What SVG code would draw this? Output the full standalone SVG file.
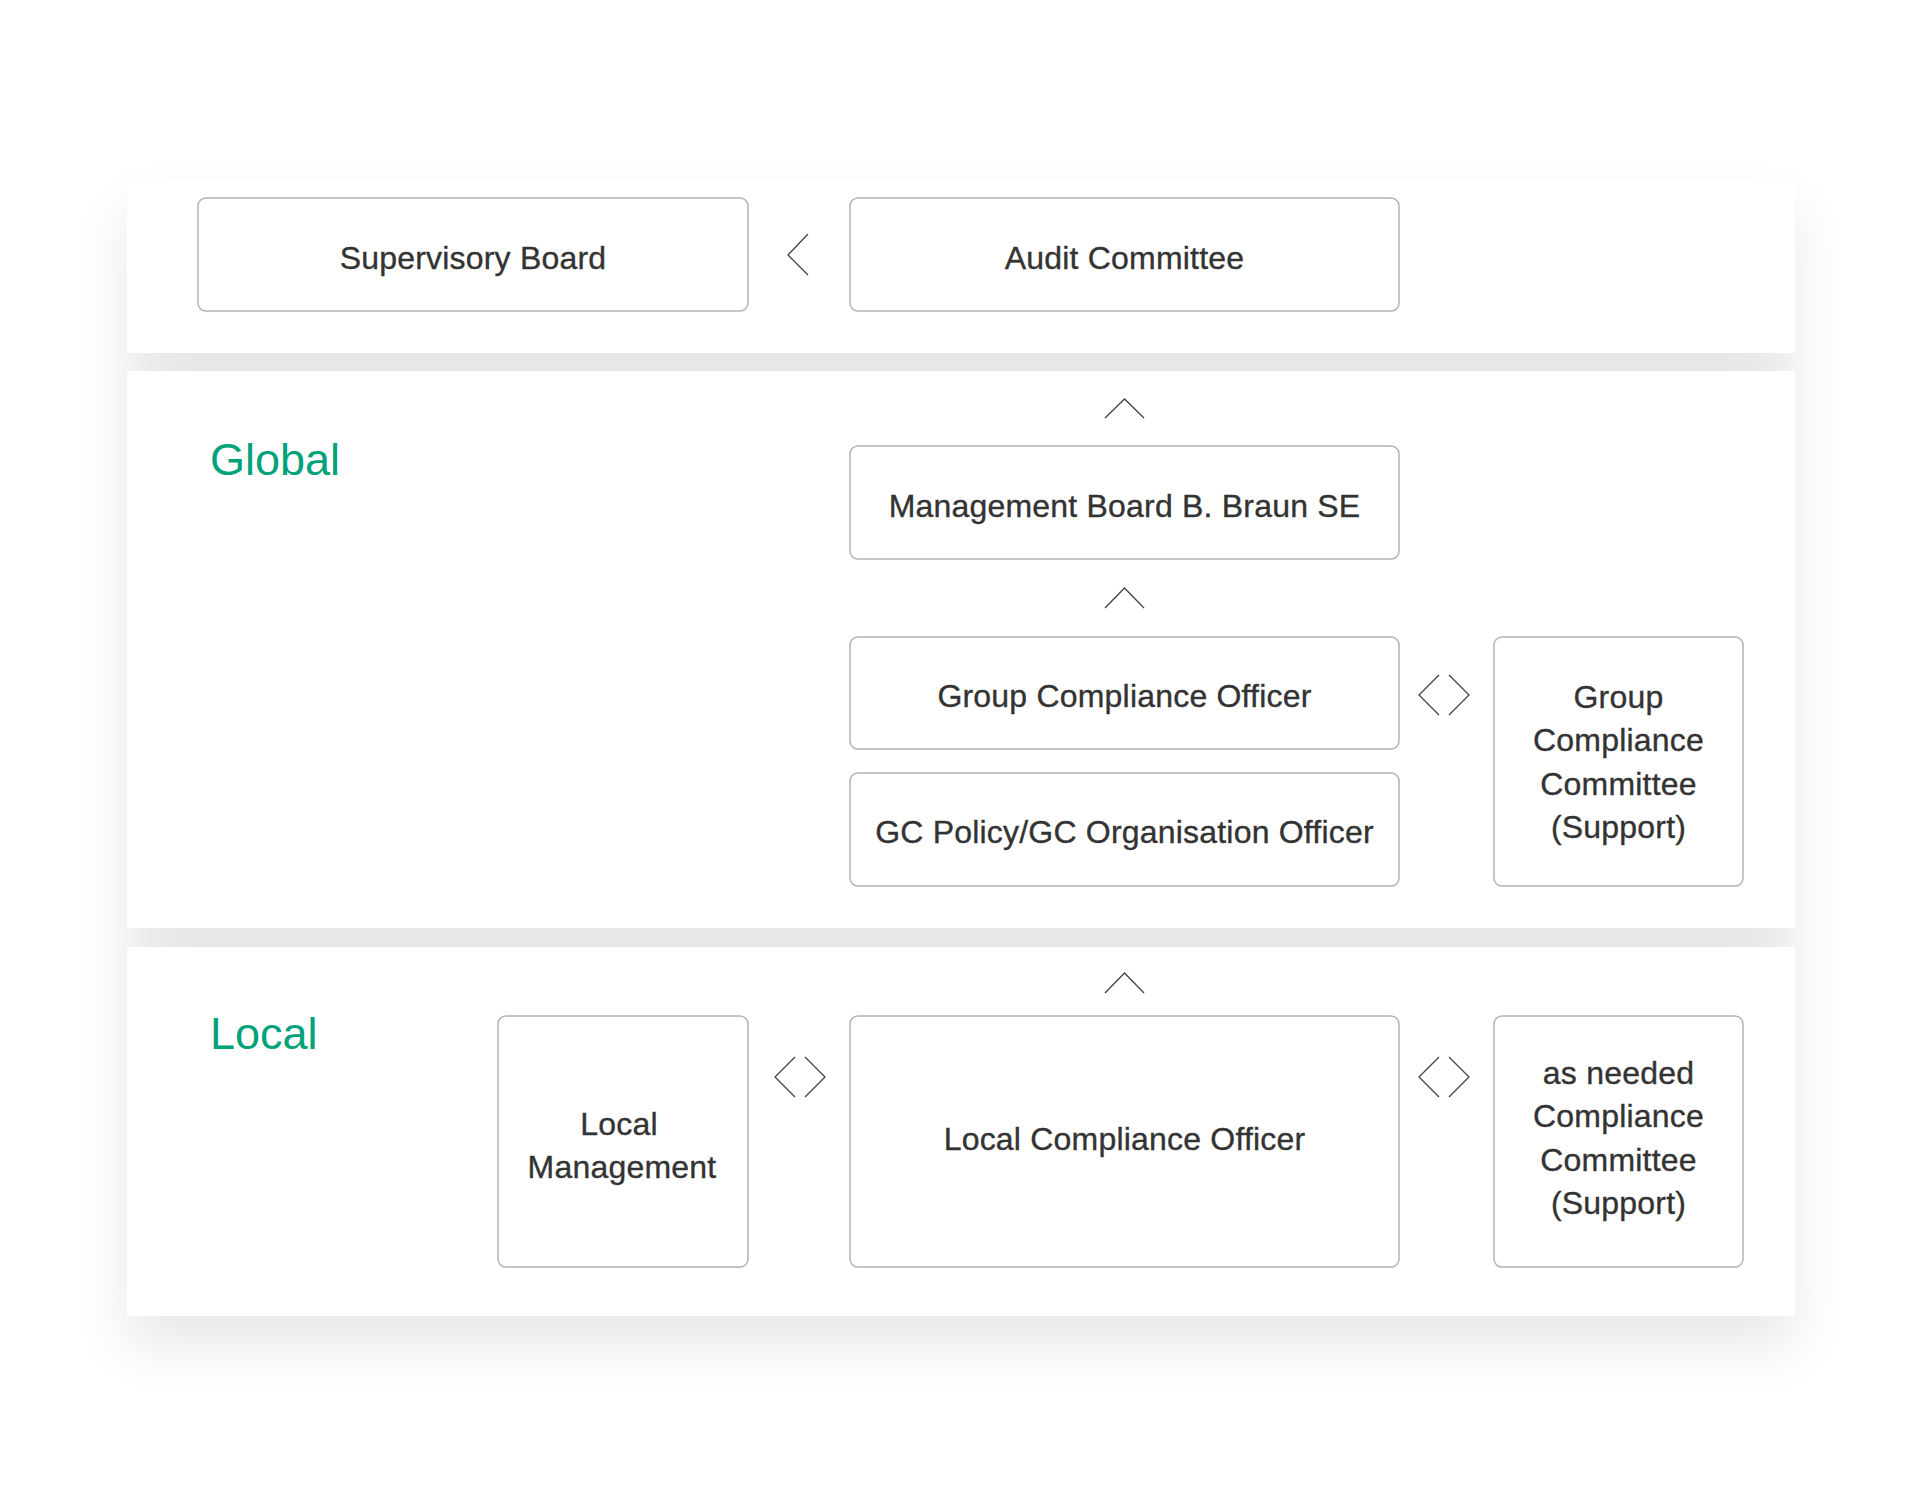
<svg xmlns="http://www.w3.org/2000/svg" width="1920" height="1500" viewBox="0 0 1920 1500">
  <defs>
    <filter id="sh" x="-10%" y="-15%" width="120%" height="135%">
      <feGaussianBlur stdDeviation="28"/>
    </filter>
    <style>
      .box { fill: #ffffff; stroke: #b3b3b3; stroke-width: 1.5; }
      .panel { fill: #ffffff; }
      .t { font-family: "Liberation Sans", Arial, sans-serif; font-size: 32px; fill: #333333; stroke: #333333; stroke-width: 0.35; text-anchor: middle; letter-spacing: 0.2px; }
      .lvl { font-family: "Liberation Sans", Arial, sans-serif; font-size: 45px; fill: #00a27a; }
      .chev { fill: none; stroke: #444444; stroke-width: 1.3; }
    </style>
  </defs>
  <rect width="1920" height="1500" fill="#ffffff"/>

  <g id="background">
    <rect x="127" y="210" width="1668" height="1136" fill="#000000" opacity="0.09" filter="url(#sh)"/>
    <rect class="panel" x="127" y="180" width="1668" height="173"/>
    <rect class="panel" x="127" y="371" width="1668" height="557"/>
    <rect class="panel" x="127" y="947" width="1668" height="369"/>
  </g>

  <g id="level-labels">
    <text class="lvl" x="210" y="475">Global</text>
    <text class="lvl" x="210" y="1049">Local</text>
  </g>

  <g id="connectors">
    <polyline class="chev" points="808,234 788,255 808,275"/>
    <polyline class="chev" points="1105,418 1124.5,399 1144,418"/>
    <polyline class="chev" points="1105,608 1124.5,588 1144,608"/>
    <polyline class="chev" points="1105,993 1124.5,973 1144,993"/>
    <polyline class="chev" points="1439,675 1419,695 1439,715"/>
    <polyline class="chev" points="1449,675 1469,695 1449,715"/>
    <polyline class="chev" points="795,1057 775,1077 795,1097"/>
    <polyline class="chev" points="805,1057 825,1077 805,1097"/>
    <polyline class="chev" points="1439,1057 1419,1077 1439,1097"/>
    <polyline class="chev" points="1449,1057 1469,1077 1449,1097"/>
  </g>

  <g id="supervisory-board">
    <rect class="box" x="198" y="198" width="550" height="113" rx="8"/>
    <text class="t" x="473" y="269">Supervisory Board</text>
  </g>

  <g id="audit-committee">
    <rect class="box" x="850" y="198" width="549" height="113" rx="8"/>
    <text class="t" x="1124.5" y="269">Audit Committee</text>
  </g>

  <g id="management-board">
    <rect class="box" x="850" y="446" width="549" height="113" rx="8"/>
    <text class="t" x="1124.5" y="517">Management Board B. Braun SE</text>
  </g>

  <g id="group-compliance-officer">
    <rect class="box" x="850" y="637" width="549" height="112" rx="8"/>
    <text class="t" x="1124.5" y="707">Group Compliance Officer</text>
  </g>

  <g id="gc-policy-officer">
    <rect class="box" x="850" y="773" width="549" height="113" rx="8"/>
    <text class="t" x="1124.5" y="843">GC Policy/GC Organisation Officer</text>
  </g>

  <g id="group-compliance-committee">
    <rect class="box" x="1494" y="637" width="249" height="249" rx="8"/>
    <text class="t" x="1618.5" y="708">Group</text>
    <text class="t" x="1618.5" y="751">Compliance</text>
    <text class="t" x="1618.5" y="795">Committee</text>
    <text class="t" x="1618.5" y="838">(Support)</text>
  </g>

  <g id="local-management">
    <rect class="box" x="498" y="1016" width="250" height="251" rx="8"/>
    <text class="t" x="619" y="1135">Local</text>
    <text class="t" x="622" y="1178">Management</text>
  </g>

  <g id="local-compliance-officer">
    <rect class="box" x="850" y="1016" width="549" height="251" rx="8"/>
    <text class="t" x="1124.5" y="1150">Local Compliance Officer</text>
  </g>

  <g id="local-compliance-committee">
    <rect class="box" x="1494" y="1016" width="249" height="251" rx="8"/>
    <text class="t" x="1618.5" y="1084">as needed</text>
    <text class="t" x="1618.5" y="1127">Compliance</text>
    <text class="t" x="1618.5" y="1171">Committee</text>
    <text class="t" x="1618.5" y="1214">(Support)</text>
  </g>
</svg>
